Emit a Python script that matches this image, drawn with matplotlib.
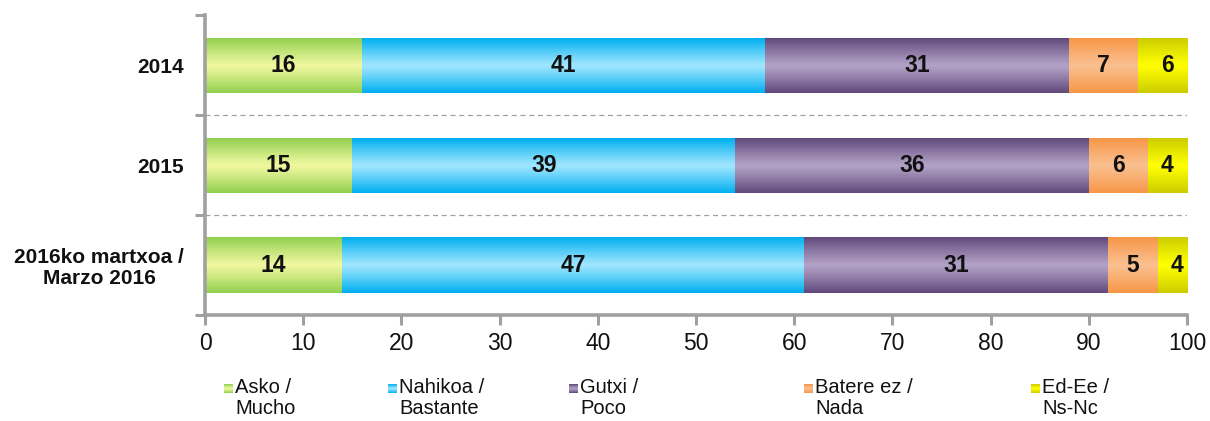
import matplotlib
matplotlib.use("Agg")
import matplotlib.pyplot as plt
import numpy as np
from matplotlib.colors import to_rgb

plt.rcParams['font.family'] = ['Liberation Sans', 'DejaVu Sans']

# datos
years = ["2014", "2015", "2016ko martxoa /\nMarzo 2016"]
series = ["Asko /\nMucho", "Nahikoa /\nBastante", "Gutxi /\nPoco", "Batere ez /\nNada", "Ed-Ee /\nNs-Nc"]
asko = [16, 15, 14]
nahikoa = [41, 39, 47]
gutxi = [31, 36, 31]
batere = [7, 6, 5]
edee = [6, 4, 4]
values = [asko, nahikoa, gutxi, batere, edee]

# colores (borde, centro) para el degradado
edge_cols = ["#92D050", "#00B0F0", "#604A7B", "#F79646", "#CCCC00"]
center_cols = ["#F0F8A0", "#A0E6FF", "#B3A2C7", "#FAC090", "#FFFF00"]


def gradient(edge, center, n=64):
    t = np.abs(np.linspace(-1, 1, n)) ** 1.1
    e = np.array(to_rgb(edge))
    c = np.array(to_rgb(center))
    col = c[None, :] * (1 - t[:, None]) + e[None, :] * t[:, None]
    return col[:, None, :]


fig = plt.figure(figsize=(12.1, 4.21), dpi=100)
ax = fig.add_axes([205 / 1210, 1 - 315 / 421, (1187 - 205) / 1210, 300 / 421])

y = np.arange(len(years))
left = np.zeros(len(years))
for i, vals in enumerate(values):
    bars = ax.barh(y, vals, left=left, height=0.55, color=edge_cols[i], edgecolor="none")
    img = gradient(edge_cols[i], center_cols[i])
    for b, v in zip(bars, vals):
        x0, y0 = b.get_x(), b.get_y()
        ax.imshow(img, extent=(x0, x0 + b.get_width(), y0 + b.get_height(), y0),
                  aspect="auto", zorder=2, interpolation="bilinear")
        ax.text(x0 + b.get_width() / 2, b.get_y() + b.get_height() / 2, str(v),
                ha="center", va="center", fontsize=16.5, fontweight="bold",
                color="#111111", zorder=3)
    left += np.array(vals)

ax.set_xlim(0, 100)
ax.set_ylim(len(years) - 0.5, -0.5)

# separadores
for s in np.arange(0.5, len(years) - 0.5, 1):
    ax.plot([0, 100], [s, s], ls=(0, (4, 3)), color="#A0A0A0", lw=0.9, zorder=1)

ax.set_xticks(np.arange(0, 101, 10))
ax.set_yticks(y)
ax.set_yticklabels(years, fontsize=15, fontweight="bold", color="#111111",
                   ha="right", multialignment="center", linespacing=1.15)
ax.set_yticks(np.arange(-0.5, len(years), 1), minor=True)
ax.tick_params(axis="y", which="major", length=0, pad=15)
ax.tick_params(axis="y", which="minor", length=7, width=2.2, color="#A0A0A0")
ax.tick_params(axis="x", length=7, width=2.2, color="#A0A0A0", labelsize=16.5,
               labelcolor="#111111", pad=5)

for sp in ["top", "right"]:
    ax.spines[sp].set_visible(False)
for sp in ["left", "bottom"]:
    ax.spines[sp].set_color("#A0A0A0")
    ax.spines[sp].set_linewidth(2.6)

# leyenda
leg_x = [228, 392, 573, 808, 1035]
for i, lab in enumerate(series):
    xm = leg_x[i] / 1210
    sq = fig.add_axes([xm - 4.5 / 1210, 1 - 393 / 421, 9 / 1210, 9 / 421])
    sq.imshow(gradient(edge_cols[i], center_cols[i]), aspect="auto")
    sq.axis("off")
    fig.text(xm + 7 / 1210, 1 - 378 / 421, lab, ha="left", va="top",
             fontsize=14.5, color="#111111", linespacing=1.1)

fig.savefig("out.png", dpi=100)
